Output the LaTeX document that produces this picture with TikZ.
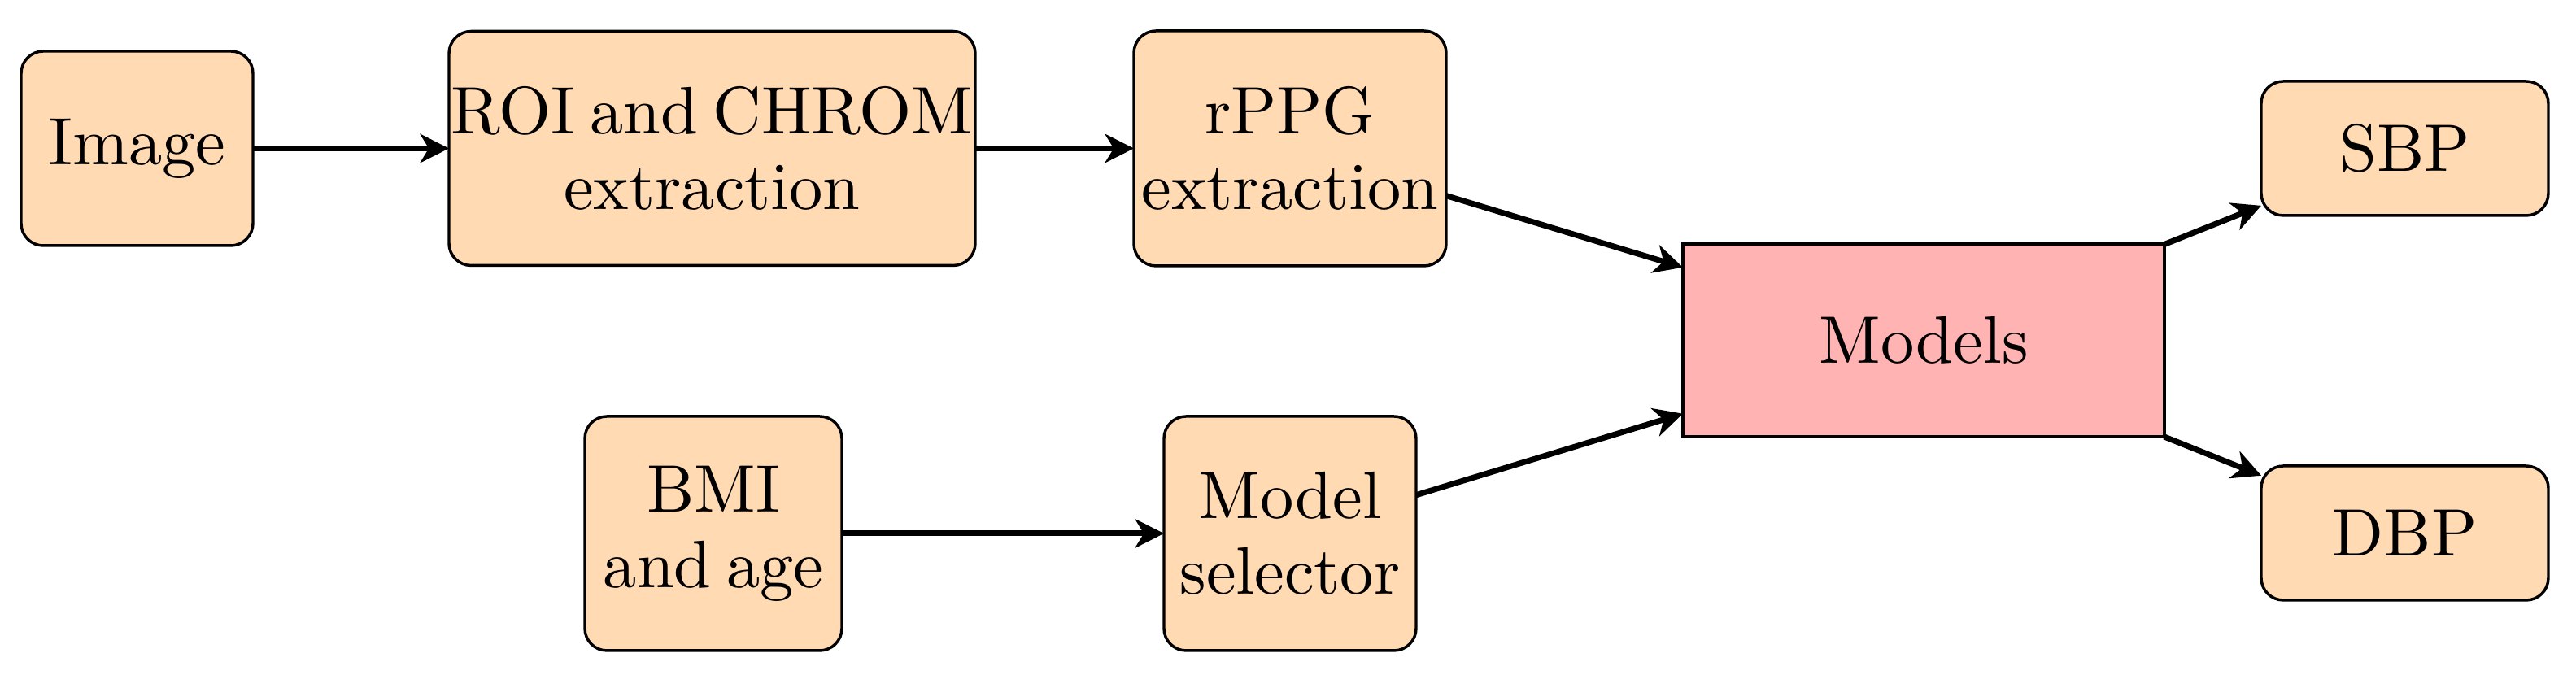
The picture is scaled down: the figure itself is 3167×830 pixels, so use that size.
\documentclass[tikz,border=0pt]{standalone}
\usetikzlibrary{arrows.meta}
\definecolor{peach}{RGB}{255,218,179}
\definecolor{pinkbox}{RGB}{255,179,179}
\newcommand{\pxu}{0.121212pt}
\newcommand{\tightsp}{\spaceskip=0.22em plus 0.05em\relax}
\begin{document}
\begin{tikzpicture}[x=0.121212pt, y=-0.121212pt,
  every node/.style={font=\fontsize{10}{11.3}\selectfont\tightsp, align=center, inner sep=0pt, outer sep=0pt},
  stagebox/.style={draw=black, line width=0.42pt, fill=peach, rounded corners=3.3pt},
  modelbox/.style={draw=black, line width=0.42pt, fill=pinkbox},
  flow/.style={line width=0.85pt, -{Stealth[length=4.3pt,width=4.3pt,inset=1.3pt]}}
]
\useasboundingbox (0,0) rectangle (3167,830);

\node[stagebox, minimum width=285*\pxu, minimum height=239*\pxu] (img) at (168.5,182.5) {Image};
\node[stagebox, minimum width=647*\pxu, minimum height=288*\pxu] (roi) at (875.5,182.5) {ROI and CHROM\\extraction};
\node[stagebox, minimum width=384*\pxu, minimum height=289*\pxu] (rppg) at (1586,182.5) {rPPG\\extraction};
\node[stagebox, minimum width=316*\pxu, minimum height=288*\pxu] (bmi) at (877,656) {BMI\\and age};
\node[stagebox, minimum width=310*\pxu, minimum height=288*\pxu] (sel) at (1586,656) {Model\\selector};
\node[modelbox, minimum width=592*\pxu, minimum height=237*\pxu] (models) at (2365,418.5) {Models};
\node[stagebox, minimum width=353*\pxu, minimum height=165*\pxu] (sbp) at (2956.5,182.5) {SBP};
\node[stagebox, minimum width=353*\pxu, minimum height=165*\pxu] (dbp) at (2956.5,655.5) {DBP};

\draw[flow] (img) -- (roi);
\draw[flow] (roi) -- (rppg);
\draw[flow] (rppg) -- (models);
\draw[flow] (bmi) -- (sel);
\draw[flow] (sel) -- (models);
\draw[flow] (models) -- (sbp);
\draw[flow] (models) -- (dbp);
\end{tikzpicture}
\end{document}
